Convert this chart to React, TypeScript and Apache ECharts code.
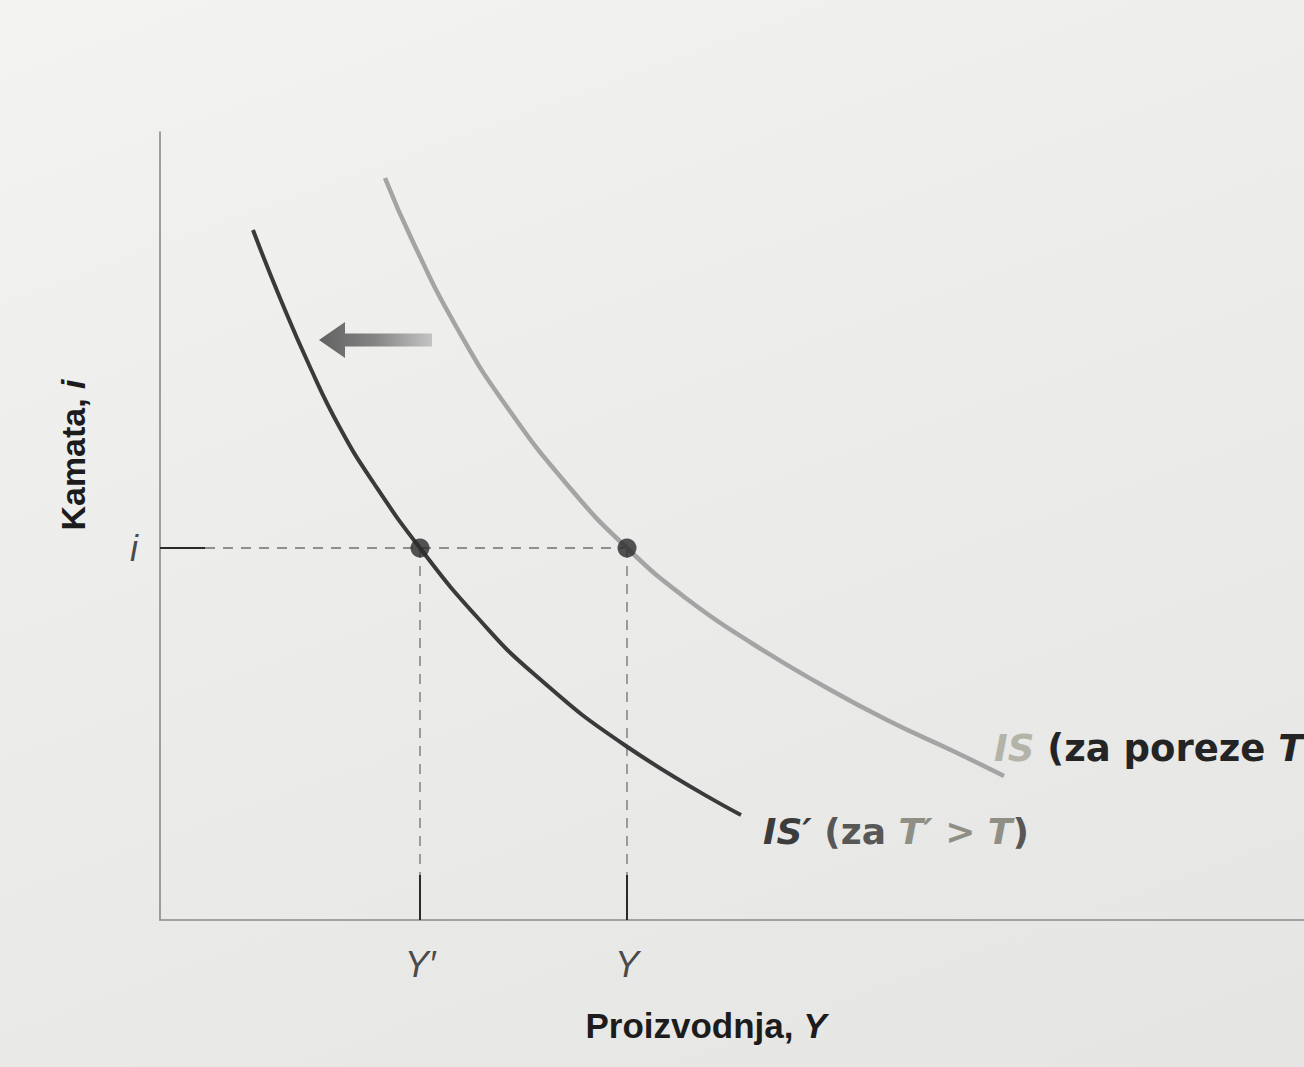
import React, { useEffect, useRef } from "react";
import * as echarts from "echarts";

// IS curve (taxes T) – light grey
const isX = [225, 253, 297, 347, 410, 467, 527, 593, 660, 727, 793, 844];
const isY = [742, 678, 592, 513, 432, 372, 321, 276, 236, 200, 169, 144];
// IS' curve (taxes T' > T) – dark
const isPrimeX = [93, 120, 150, 180, 213, 260, 317, 374, 466, 581];
const isPrimeY = [690, 622, 553, 492, 438, 372, 303, 246, 174, 105];
// equilibrium outputs and interest rate
const outputValues = [260, 467];
const outputLabels = ["Y\u2032", "Y"];
const interestRate = 372;
const interestLabel = "i";
// shift arrow (from -> to)
const arrowFrom = [272, 580];
const arrowTo = [159, 580];

const FONT = '"Liberation Sans", Arial, Helvetica, sans-serif';
const WIDE = '"DejaVu Sans", "Liberation Sans", Arial, sans-serif';
const TICK = 45;

export default function App() {
  const ref = useRef<HTMLDivElement>(null);
  useEffect(() => {
    const chart = echarts.init(ref.current!, null, { renderer: "svg" });
    const isData = isX.map((x, k) => [x, isY[k]]);
    const isPrimeData = isPrimeX.map((x, k) => [x, isPrimeY[k]]);

    const guideSeries: any[] = [];
    guideSeries.push({
      type: "line",
      data: [[TICK, interestRate], [Math.max(...outputValues), interestRate]],
      symbol: "none",
      silent: true,
      lineStyle: { color: "#707070", width: 1.3, type: [10, 8] },
      z: 2,
    });
    guideSeries.push({
      type: "line",
      data: [[0, interestRate], [TICK, interestRate]],
      symbol: "none",
      silent: true,
      lineStyle: { color: "#2a2a2a", width: 2 },
      z: 2,
    });
    outputValues.forEach((v) => {
      guideSeries.push({
        type: "line",
        data: [[v, interestRate], [v, TICK]],
        symbol: "none",
        silent: true,
        lineStyle: { color: "#707070", width: 1.3, type: [10, 8] },
        z: 2,
      });
      guideSeries.push({
        type: "line",
        data: [[v, TICK], [v, 0]],
        symbol: "none",
        silent: true,
        lineStyle: { color: "#2a2a2a", width: 2 },
        z: 2,
      });
    });

    chart.setOption({
      animation: false,
      backgroundColor: "transparent",
      grid: { left: 160, top: 132, right: 0, bottom: 147 },
      xAxis: {
        type: "value",
        min: 0,
        max: 1144,
        axisLine: { show: true, onZero: false, lineStyle: { color: "#8a8a8a", width: 1.6 } },
        axisTick: { show: false },
        axisLabel: { show: false },
        splitLine: { show: false },
      },
      yAxis: {
        type: "value",
        min: 0,
        max: 788,
        axisLine: { show: true, onZero: false, lineStyle: { color: "#8a8a8a", width: 1.6 } },
        axisTick: { show: false },
        axisLabel: { show: false },
        splitLine: { show: false },
      },
      series: [
        ...guideSeries,
        {
          name: "IS",
          type: "line",
          data: isData,
          smooth: 0.5,
          symbol: "none",
          silent: true,
          lineStyle: { color: "#a4a4a4", width: 4.5 },
          z: 3,
          endLabel: {
            show: true,
            distance: 0,
            offset: [-10, -28],
            formatter: "{a|IS }{b|(za poreze }{c|T}{b|)}",
            rich: {
              a: { fontFamily: WIDE, fontSize: 37, fontWeight: "bold", fontStyle: "italic", color: "#b3b3a8" },
              b: { fontFamily: WIDE, fontSize: 37, fontWeight: "bold", color: "#242424" },
              c: { fontFamily: WIDE, fontSize: 37, fontWeight: "bold", fontStyle: "italic", color: "#242424" },
            },
          },
        },
        {
          name: "IS'",
          type: "line",
          data: isPrimeData,
          smooth: 0.5,
          symbol: "none",
          silent: true,
          lineStyle: { color: "#3a3a3a", width: 4 },
          z: 3,
          endLabel: {
            show: true,
            distance: 0,
            offset: [22, 16],
            formatter: "{a|IS\u2032 }{b|(za }{c|T\u2032 > T}{b|)}",
            rich: {
              a: { fontFamily: WIDE, fontSize: 36, fontWeight: "bold", fontStyle: "italic", color: "#3c3c3c" },
              b: { fontFamily: WIDE, fontSize: 36, fontWeight: "bold", color: "#575757" },
              c: { fontFamily: WIDE, fontSize: 36, fontWeight: "bold", fontStyle: "italic", color: "#8f8f86" },
            },
          },
        },
        {
          type: "scatter",
          data: outputValues.map((v) => [v, interestRate]),
          symbolSize: 19,
          silent: true,
          itemStyle: { color: "#2b2b2b" },
          z: 5,
        },
        {
          type: "scatter",
          data: outputValues.map((v, k) => ({ value: [v, 0], name: outputLabels[k] })),
          symbolSize: 0,
          silent: true,
          label: {
            show: true,
            position: "bottom",
            distance: 26,
            formatter: (p: any) => p.name,
            fontFamily: FONT,
            fontSize: 36,
            fontStyle: "italic",
            color: "#1e1e1e",
          },
          z: 5,
        },
        {
          type: "scatter",
          data: [{ value: [0, interestRate], name: interestLabel }],
          symbolSize: 0,
          silent: true,
          label: {
            show: true,
            position: "left",
            distance: 22,
            formatter: (p: any) => p.name,
            fontFamily: FONT,
            fontSize: 36,
            fontStyle: "italic",
            color: "#1e1e1e",
          },
          z: 5,
        },
      ],
    });

    const tip = chart.convertToPixel({ gridIndex: 0 }, arrowTo) as number[];
    const tail = chart.convertToPixel({ gridIndex: 0 }, arrowFrom) as number[];
    const hx = tip[0] + 26;
    const ty = tip[1];
    const fx = tail[0];

    chart.setOption({
      graphic: [
        {
          type: "polygon",
          silent: true,
          shape: {
            points: [
              [tip[0], ty],
              [hx, ty - 18],
              [hx, ty - 6.5],
              [fx, ty - 6.5],
              [fx, ty + 6.5],
              [hx, ty + 6.5],
              [hx, ty + 18],
            ],
          },
          style: {
            fill: {
              type: "linear",
              x: 0,
              y: 0,
              x2: 1,
              y2: 0,
              colorStops: [
                { offset: 0, color: "#616161" },
                { offset: 0.5, color: "#858585" },
                { offset: 1, color: "#c4c4c4" },
              ],
            },
          },
          z: 10,
        },
        {
          type: "text",
          x: 706,
          y: 1025,
          silent: true,
          style: {
            text: "{a|Proizvodnja, }{b|Y}",
            align: "center",
            verticalAlign: "middle",
            rich: {
              a: { fontFamily: FONT, fontSize: 35, fontWeight: "bold", fill: "#1c1c1c", color: "#1c1c1c" },
              b: { fontFamily: FONT, fontSize: 35, fontWeight: "bold", fontStyle: "italic", fill: "#1c1c1c", color: "#1c1c1c" },
            },
          },
        },
        {
          type: "text",
          x: 73,
          y: 455,
          rotation: Math.PI / 2,
          silent: true,
          style: {
            text: "{a|Kamata, }{b|i}",
            align: "center",
            verticalAlign: "middle",
            rich: {
              a: { fontFamily: FONT, fontSize: 34, fontWeight: "bold", fill: "#1c1c1c", color: "#1c1c1c" },
              b: { fontFamily: FONT, fontSize: 34, fontWeight: "bold", fontStyle: "italic", fill: "#1c1c1c", color: "#1c1c1c" },
            },
          },
        },
      ],
    });

    return () => chart.dispose();
  }, []);

  return (
    <div
      ref={ref}
      style={{
        position: "fixed",
        left: 0,
        top: 0,
        width: 1304,
        height: 1067,
        background: "linear-gradient(160deg, #f3f3f2 0%, #ececeb 45%, #e5e5e4 100%)",
      }}
    />
  );
}
